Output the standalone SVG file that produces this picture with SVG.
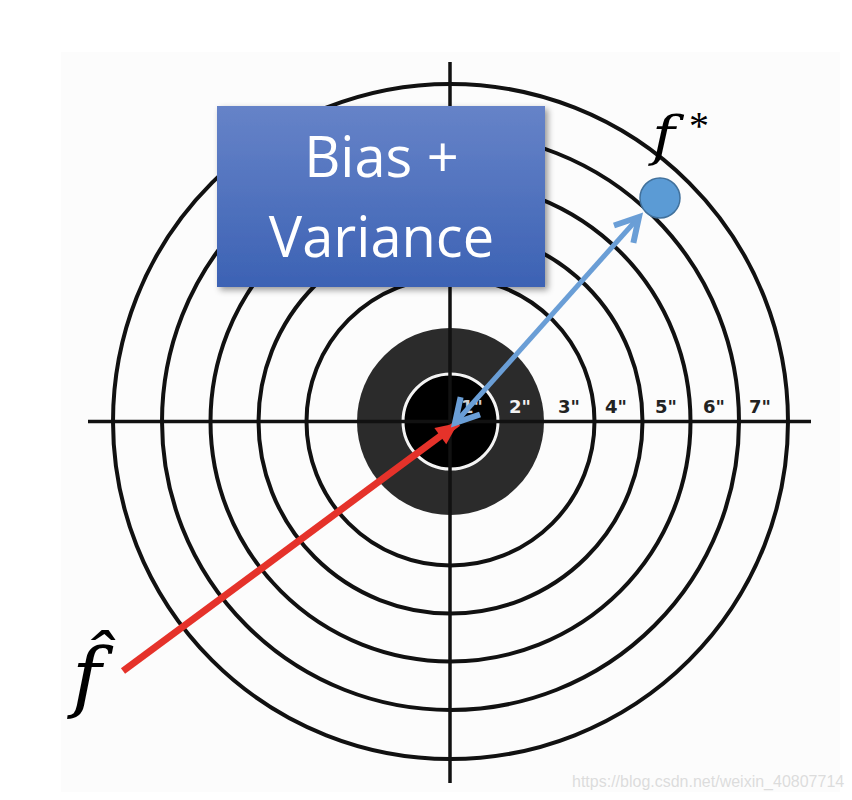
<svg xmlns="http://www.w3.org/2000/svg" width="852" height="800" viewBox="0 0 852 800">
  <defs>
    <linearGradient id="boxGrad" x1="0" y1="0" x2="0" y2="1">
      <stop offset="0" stop-color="#6683c8"/>
      <stop offset="1" stop-color="#3c62b4"/>
    </linearGradient>
    <filter id="shadow" x="-10%" y="-10%" width="125%" height="125%">
      <feDropShadow dx="3" dy="3" stdDeviation="3" flood-color="#000" flood-opacity="0.4"/>
    </filter>
    <marker id="blueHead" viewBox="-30 -16 36 32" markerWidth="36" markerHeight="32" refX="0" refY="0" orient="auto-start-reverse" markerUnits="userSpaceOnUse">
      <path d="M -23,-13 L 0,0 L -23,13" fill="none" stroke="#6a9ed6" stroke-width="6" stroke-linejoin="miter"/>
    </marker>
    <marker id="redHead" viewBox="-26 -14 28 28" markerWidth="28" markerHeight="28" refX="0" refY="0" orient="auto" markerUnits="userSpaceOnUse">
      <path d="M 0,0 L -22,-10 L -22,10 Z" fill="#e5322a"/>
    </marker>
  </defs>
  <style>
    .ring { fill: none; stroke: #111; stroke-width: 4; }
    .axis { stroke: #111; stroke-width: 3.5; }
    .num { font-family: "DejaVu Sans", sans-serif; font-weight: bold; font-size: 18px; fill: #222; }
    .boxtext { font-family: "Open Sans", sans-serif; font-size: 56px; fill: #fff; text-anchor: middle; }
    .math { font-family: "DejaVu Serif", "Liberation Serif", serif; font-style: italic; fill: #000; }
  </style>
  <rect x="0" y="0" width="852" height="800" fill="#ffffff"/>
  <rect x="61" y="52" width="779" height="740" fill="#fcfcfc"/>

  <g id="target">
    <circle class="ring" cx="450.5" cy="421.5" r="337.5"/>
    <circle class="ring" cx="450.5" cy="421.5" r="288.5"/>
    <circle class="ring" cx="450.5" cy="421.5" r="240"/>
    <circle class="ring" cx="450.5" cy="421.5" r="192"/>
    <circle class="ring" cx="450.5" cy="421.5" r="144"/>
    <circle cx="450.5" cy="421.5" r="93.5" fill="#2b2b2b"/>
    <circle cx="450.5" cy="421.5" r="47.5" fill="#000" stroke="#f4f4f4" stroke-width="3"/>
    <line class="axis" x1="450" y1="62" x2="450" y2="783"/>
    <line class="axis" x1="88" y1="421.5" x2="811" y2="421.5"/>
    <text class="num" x="461" y="413" style="fill:#cfcfcf">1"</text>
    <text class="num" x="509" y="413" style="fill:#f2f2f2">2"</text>
    <text class="num" x="558" y="413">3"</text>
    <text class="num" x="605" y="413">4"</text>
    <text class="num" x="655" y="413">5"</text>
    <text class="num" x="703" y="413">6"</text>
    <text class="num" x="749" y="413">7"</text>
  </g>

  <g id="box">
    <rect x="217" y="106" width="328" height="181" fill="url(#boxGrad)" filter="url(#shadow)"/>
    <text class="boxtext" x="381.5" y="177">Bias +</text>
    <text class="boxtext" x="381.5" y="257">Variance</text>
  </g>

  <g id="connectors">
    <line x1="123" y1="671" x2="458" y2="423" stroke="#e5322a" stroke-width="7" marker-end="url(#redHead)"/>
    <line x1="639" y1="217" x2="455" y2="423" stroke="#6a9ed6" stroke-width="5" marker-start="url(#blueHead)" marker-end="url(#blueHead)"/>
  </g>

  <g id="fstar">
    <circle cx="660" cy="198" r="20" fill="#5b9bd5" stroke="#41719c" stroke-width="1.5"/>
    <text class="math" transform="translate(652,155) scale(1.15,1)" x="0" y="0" font-size="54">f</text>
    <text x="689" y="139" font-family="Liberation Serif, serif" font-size="40" fill="#000">*</text>
  </g>

  <g id="fhat">
    <text class="math" transform="translate(72,703) scale(1.05,1)" font-size="76">f̂</text>
  </g>

  <text x="572" y="787" font-family="Liberation Sans, Arial, sans-serif" font-size="16" fill="#dcdcdc">https://blog.csdn.net/weixin_40807714</text>
</svg>
